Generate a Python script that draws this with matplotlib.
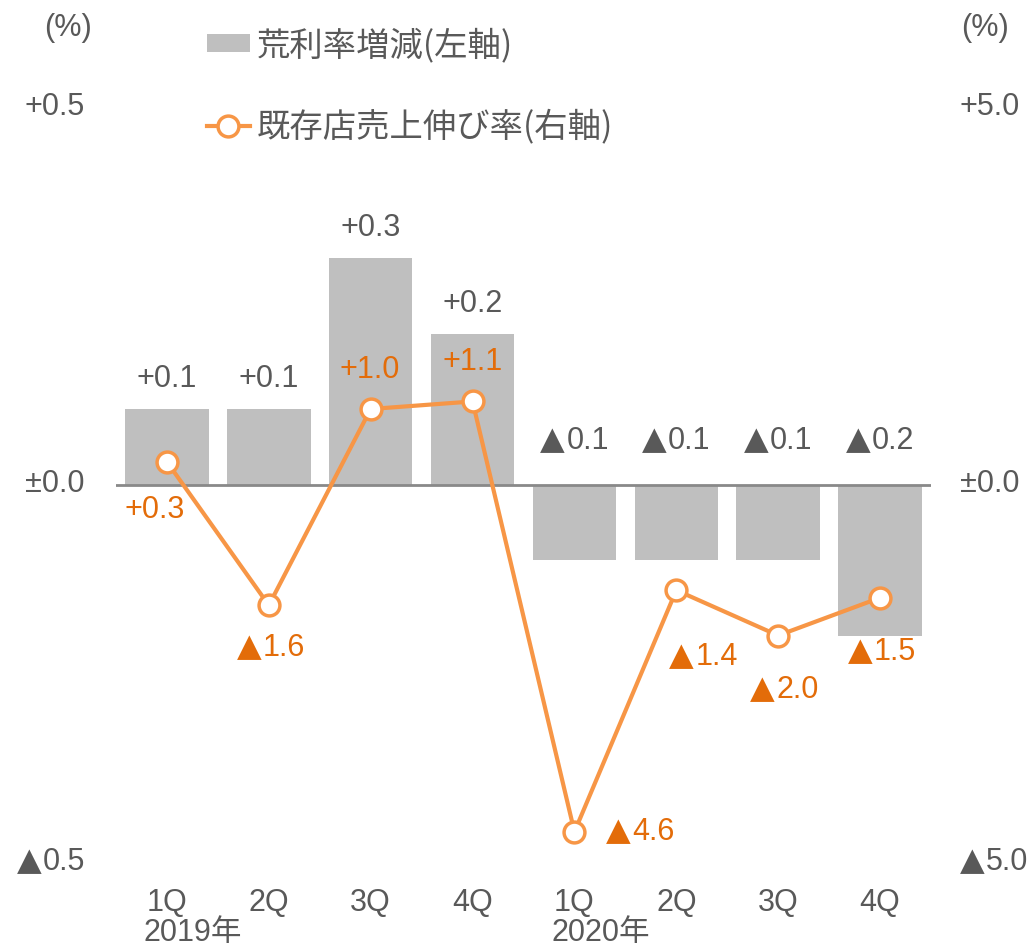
import matplotlib
matplotlib.use("Agg")
import matplotlib.pyplot as plt
from matplotlib.offsetbox import TextArea, HPacker, AnnotationBbox
import numpy as np

plt.rcParams['font.family'] = ['Liberation Sans', 'Noto Sans CJK JP', 'DejaVu Sans']

quarters = ["1Q", "2Q", "3Q", "4Q", "1Q", "2Q", "3Q", "4Q"]
years = ["2019年", "", "", "", "2020年", "", "", ""]
margin_change = [0.1, 0.1, 0.3, 0.2, -0.1, -0.1, -0.1, -0.2]
sales_growth = [0.3, -1.6, 1.0, 1.1, -4.6, -1.4, -2.0, -1.5]
left_ticks = [-0.5, 0.0, 0.5]
left_labels = ["▲0.5", "±0.0", "+0.5"]
right_ticks = [-5.0, 0.0, 5.0]
right_labels = ["▲5.0", "±0.0", "+5.0"]
bar_name = "荒利率増減(左軸)"
line_name = "既存店売上伸び率(右軸)"

def fmt(v):
    if v > 0:
        return f"+{v:.1f}"
    if v < 0:
        return f"▲{abs(v):.1f}"
    return "±0.0"

GRAY_TXT = "#595959"
BAR = "#BFBFBF"
LINE = "#F79646"
ORANGE_TXT = "#E36C09"
FS = 22

def label(ax, s, xy, xycoords, off, align, color):
    props = dict(family=['Liberation Sans'], size=FS, color=color)
    if s.startswith("▲"):
        tri = TextArea("▲", textprops=dict(family=['DejaVu Sans'], size=FS * 1.05, color=color))
        rest = TextArea(s[1:], textprops=props)
        box = HPacker(children=[tri, rest], align='baseline', pad=0, sep=1)
    else:
        box = TextArea(s, textprops=props)
    ab = AnnotationBbox(box, xy, xycoords=xycoords, xybox=off, boxcoords='offset pixels',
                        frameon=False, box_alignment=align, pad=0, annotation_clip=False)
    ab.set_zorder(7)
    ax.add_artist(ab)

fig = plt.figure(figsize=(10.29, 9.48), dpi=100)
ax = fig.add_axes([116/1029, 1-862/948, 815/1029, 755/948])
ax2 = ax.twinx()
ax.set_zorder(1); ax2.set_zorder(2)
ax.patch.set_visible(False)

x = np.arange(len(quarters))
bars = ax.bar(x, margin_change, width=0.82, color=BAR, zorder=2, label=bar_name)
ax.axhline(0, color="#898989", lw=2, zorder=3)
ax.set_xlim(-0.5, len(quarters) - 0.5)
ax.set_ylim(-0.5, 0.5)
ax2.set_ylim(-5, 5)

for a in (ax, ax2):
    for s in a.spines.values():
        s.set_visible(False)
    a.tick_params(length=0, colors=GRAY_TXT, labelsize=FS)

ax.set_yticks(left_ticks, [""] * len(left_ticks))
ax2.set_yticks(right_ticks, [""] * len(right_ticks))
for t, s in zip(left_ticks, left_labels):
    label(ax, s, (0, t), ax.get_yaxis_transform(), (-31, 0), (1, 0.5), GRAY_TXT)
for t, s in zip(right_ticks, right_labels):
    label(ax2, s, (1, t), ax2.get_yaxis_transform(), (29, 0), (0, 0.5), GRAY_TXT)

ax.set_xticks(x, quarters)
ax.tick_params(axis='x', pad=19)

for xi, yr in zip(x, years):
    if yr:
        ax.annotate(yr, xy=(xi, 0), xycoords=ax.get_xaxis_transform(),
                    xytext=(26, -56), textcoords='offset pixels',
                    ha='center', va='top', fontsize=FS, color=GRAY_TXT)

# bar labels
for xi, v in zip(x, margin_change):
    if v >= 0:
        label(ax, fmt(v), (xi, v), 'data', (0, 30), (0.5, 0.5), GRAY_TXT)
    else:
        label(ax, fmt(v), (xi, 0), 'data', (0, 44), (0.5, 0.5), GRAY_TXT)

line, = ax2.plot(x, sales_growth, color=LINE, lw=3, marker='o', ms=15,
                 mfc='white', mec=LINE, mew=2.5, zorder=5, label=line_name)

offsets = [(-12, -48), (2, -42), (-1, 39), (0, 39), (66, 0), (27, -66), (6, -54), (2, -54)]
for xi, v, (dx, dy) in zip(x, sales_growth, offsets):
    label(ax2, fmt(v), (xi, v), 'data', (dx, dy), (0.5, 0.5), ORANGE_TXT)

fig.text(68/1029, 1-28/948, "(%)", ha='center', va='center', fontsize=FS, color=GRAY_TXT)
fig.text(985/1029, 1-28/948, "(%)", ha='center', va='center', fontsize=FS, color=GRAY_TXT)

leg = fig.legend(handles=[bars, line], loc='upper left',
                 bbox_to_anchor=(177/1029, 1+2/948), frameon=False,
                 prop=dict(family=['Noto Sans CJK JP'], size=24),
                 labelcolor=GRAY_TXT, handlelength=1.28,
                 handleheight=0.45, handletextpad=0.22, labelspacing=1.38)

fig.savefig("out.png", dpi=100)
